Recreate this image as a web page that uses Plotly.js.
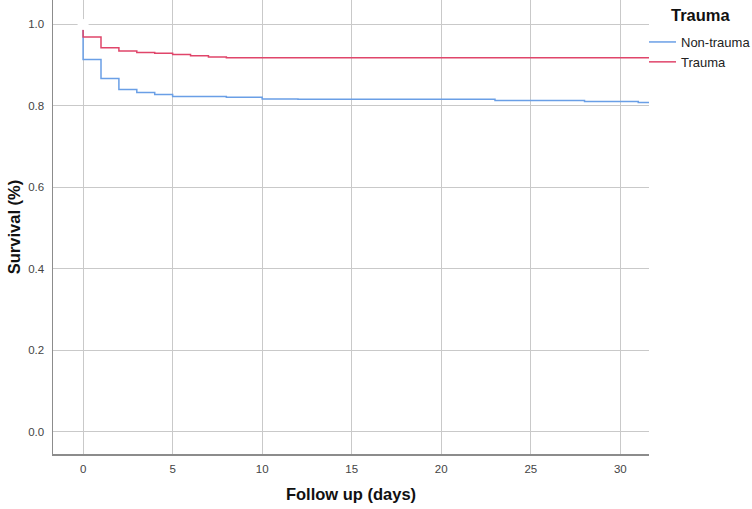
<!DOCTYPE html>
<html>
<head>
<meta charset="utf-8">
<script src="https://cdn.plot.ly/plotly-3.0.1.min.js"></script>
<style>
  html, body { margin: 0; padding: 0; background: #fff; }
  #grafico { width: 752px; height: 509px; }
</style>
</head>
<body>
<div id="grafico"></div>
<script>
// Kaplan-Meier steps (days, survival)
let diasNoTrauma = [0, 0, 1, 2, 3, 4, 5, 8, 10, 12, 23, 28, 31, 31.6];
let survNoTrauma = [1.0, 0.914, 0.867, 0.840, 0.833, 0.828, 0.823, 0.821, 0.817, 0.816, 0.813, 0.811, 0.808, 0.808];

let diasTrauma = [0, 0, 1, 2, 3, 4, 5, 6, 7, 8, 31.6];
let survTrauma = [1.0, 0.969, 0.943, 0.935, 0.931, 0.929, 0.926, 0.923, 0.920, 0.918, 0.918];

// censor mark at the start (white blob on the 1.0 gridline)
let censorX = [0];
let censorY = [1.0];

let xTicks = [0, 5, 10, 15, 20, 25, 30];
let yTicks = [0.0, 0.2, 0.4, 0.6, 0.8, 1.0];

let noTrauma = {
	x: diasNoTrauma,
	y: survNoTrauma,
	name: 'Non-trauma',
	type: 'scatter',
	mode: 'lines',
	line: {shape: 'hv', color: '#6a9fe6', width: 1.5}
};
let trauma = {
	x: diasTrauma,
	y: survTrauma,
	name: 'Trauma',
	type: 'scatter',
	mode: 'lines',
	line: {shape: 'hv', color: '#e0456a', width: 1.5}
};
let censura = {
	x: censorX,
	y: censorY,
	type: 'scatter',
	mode: 'markers',
	marker: {color: '#fff', size: 11, symbol: 'circle'},
	showlegend: false,
	hoverinfo: 'skip'
};

let fuente = 'Liberation Sans, Arial, sans-serif';

let layout = {
	width: 752,
	height: 509,
	margin: {l: 53, r: 103, t: 0, b: 55},
	paper_bgcolor: '#fff',
	plot_bgcolor: '#fff',
	font: {family: fuente, color: '#444', size: 11.5},
	xaxis: {
		title: {text: '<b>Follow up (days)</b>', font: {size: 16.5, color: '#111'}, standoff: 14},
		range: [-1.68, 31.6],
		tickvals: xTicks,
		ticktext: xTicks.map(String),
		showgrid: true,
		gridcolor: '#c9c9c9',
		gridwidth: 1,
		showline: true,
		linecolor: '#8c8c8c',
		linewidth: 1.5,
		zeroline: false,
		ticks: '',
		ticklabelstandoff: 4
	},
	yaxis: {
		title: {text: '<b>Survival (%)</b>', font: {size: 16.5, color: '#111'}, standoff: 3},
		range: [-0.055, 1.06],
		tickvals: yTicks,
		ticktext: yTicks.map(v => v.toFixed(1)),
		showgrid: true,
		gridcolor: '#c9c9c9',
		gridwidth: 1,
		showline: true,
		linecolor: '#8c8c8c',
		linewidth: 1.5,
		zeroline: false,
		ticks: '',
		ticklabelstandoff: 5
	},
	legend: {
		xref: 'container',
		yref: 'container',
		x: 649 / 752,
		xanchor: 'left',
		y: 1 - 27 / 509,
		yanchor: 'top',
		indentation: -8,
		font: {size: 13, color: '#222'},
		bgcolor: 'rgba(0,0,0,0)',
		itemwidth: 30,
		tracegroupgap: 0
	},
	annotations: [{
		text: '<b>Trauma</b>',
		xref: 'paper',
		yref: 'paper',
		x: (701 - 53) / 596,
		y: 1 - 15 / 454,
		xanchor: 'center',
		yanchor: 'middle',
		showarrow: false,
		font: {size: 16.5, color: '#111'}
	}],
	showlegend: true
};

let contenedor = document.getElementById('grafico');
Plotly.newPlot(contenedor, [noTrauma, trauma, censura], layout, {displayModeBar: false, staticPlot: true});
</script>
</body>
</html>
